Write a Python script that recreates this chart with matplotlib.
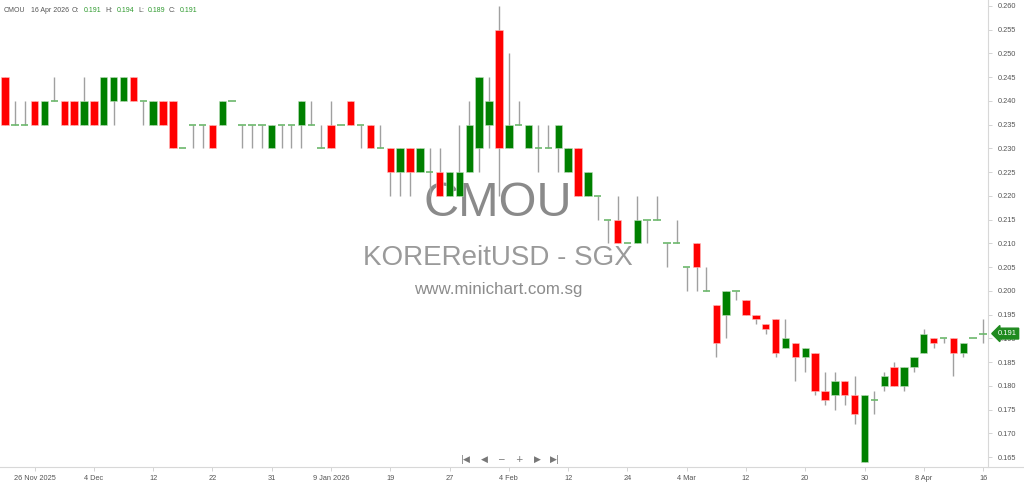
import numpy as np
import matplotlib.pyplot as plt

plt.rcParams['font.family'] = ['Liberation Sans', 'DejaVu Sans']

# daily OHLC, 21 Nov 2025 .. 16 Apr 2026 (trading days)
opens = [0.245, 0.235, 0.235, 0.240, 0.235, 0.240, 0.240, 0.240, 0.235, 0.240,
         0.235, 0.240, 0.240, 0.245, 0.240, 0.235, 0.240, 0.240, 0.230, 0.235,
         0.235, 0.235, 0.235, 0.240, 0.235, 0.235, 0.235, 0.230, 0.235, 0.235,
         0.235, 0.235, 0.230, 0.235, 0.235, 0.240, 0.235, 0.235, 0.230, 0.230,
         0.225, 0.230, 0.225, 0.225, 0.225, 0.220, 0.220, 0.225, 0.230, 0.235,
         0.255, 0.230, 0.235, 0.230, 0.230, 0.230, 0.230, 0.225, 0.230, 0.220,
         0.220, 0.215, 0.215, 0.210, 0.210, 0.215, 0.215, 0.210, 0.210, 0.205,
         0.210, 0.200, 0.197, 0.195, 0.200, 0.198, 0.195, 0.193, 0.194, 0.188,
         0.189, 0.186, 0.187, 0.179, 0.178, 0.181, 0.178, 0.164, 0.177, 0.180,
         0.184, 0.180, 0.184, 0.187, 0.190, 0.190, 0.190, 0.187, 0.190, 0.191]
highs = [0.245, 0.240, 0.240, 0.240, 0.240, 0.245, 0.240, 0.240, 0.245, 0.240,
         0.245, 0.245, 0.245, 0.245, 0.240, 0.240, 0.240, 0.240, 0.230, 0.235,
         0.235, 0.235, 0.240, 0.240, 0.235, 0.235, 0.235, 0.235, 0.235, 0.235,
         0.240, 0.240, 0.235, 0.240, 0.235, 0.240, 0.235, 0.235, 0.235, 0.230,
         0.230, 0.230, 0.230, 0.230, 0.230, 0.225, 0.235, 0.240, 0.245, 0.245,
         0.260, 0.250, 0.240, 0.235, 0.235, 0.235, 0.235, 0.230, 0.230, 0.225,
         0.220, 0.215, 0.220, 0.210, 0.220, 0.215, 0.220, 0.210, 0.215, 0.205,
         0.210, 0.205, 0.197, 0.200, 0.200, 0.198, 0.195, 0.193, 0.194, 0.194,
         0.189, 0.188, 0.187, 0.183, 0.183, 0.181, 0.182, 0.178, 0.179, 0.183,
         0.185, 0.184, 0.186, 0.192, 0.190, 0.190, 0.190, 0.189, 0.190, 0.194]
lows = [0.235, 0.235, 0.235, 0.235, 0.235, 0.240, 0.235, 0.235, 0.235, 0.235,
        0.235, 0.235, 0.240, 0.240, 0.235, 0.235, 0.235, 0.230, 0.230, 0.230,
        0.230, 0.230, 0.235, 0.240, 0.230, 0.230, 0.230, 0.230, 0.230, 0.230,
        0.230, 0.235, 0.230, 0.230, 0.235, 0.235, 0.230, 0.230, 0.230, 0.220,
        0.220, 0.220, 0.225, 0.220, 0.220, 0.220, 0.220, 0.225, 0.225, 0.230,
        0.220, 0.230, 0.235, 0.230, 0.225, 0.230, 0.225, 0.225, 0.220, 0.220,
        0.215, 0.210, 0.210, 0.210, 0.210, 0.210, 0.215, 0.205, 0.210, 0.200,
        0.200, 0.200, 0.186, 0.190, 0.198, 0.195, 0.193, 0.191, 0.186, 0.188,
        0.181, 0.183, 0.178, 0.176, 0.175, 0.176, 0.172, 0.164, 0.174, 0.179,
        0.180, 0.179, 0.183, 0.187, 0.188, 0.189, 0.182, 0.186, 0.190, 0.189]
closes = [0.235, 0.235, 0.235, 0.235, 0.240, 0.240, 0.235, 0.235, 0.240, 0.235,
          0.245, 0.245, 0.245, 0.240, 0.240, 0.240, 0.235, 0.230, 0.230, 0.235,
          0.235, 0.230, 0.240, 0.240, 0.235, 0.235, 0.235, 0.235, 0.235, 0.235,
          0.240, 0.235, 0.230, 0.230, 0.235, 0.235, 0.235, 0.230, 0.230, 0.225,
          0.230, 0.225, 0.230, 0.225, 0.220, 0.225, 0.225, 0.235, 0.245, 0.240,
          0.230, 0.235, 0.235, 0.235, 0.230, 0.230, 0.235, 0.230, 0.220, 0.225,
          0.220, 0.215, 0.210, 0.210, 0.215, 0.215, 0.215, 0.210, 0.210, 0.205,
          0.205, 0.200, 0.189, 0.200, 0.200, 0.195, 0.194, 0.192, 0.187, 0.190,
          0.186, 0.188, 0.179, 0.177, 0.181, 0.178, 0.174, 0.178, 0.177, 0.182,
          0.180, 0.184, 0.186, 0.191, 0.189, 0.190, 0.187, 0.189, 0.190, 0.191]

tick_pos = [3, 9, 15, 21, 27, 33, 39, 45, 51, 57, 63, 69, 75, 81, 87, 93, 99]
tick_labels = ['26 Nov 2025', '4 Dec', '12', '22', '31', '9 Jan 2026', '19', '27',
               '4 Feb', '12', '24', '4 Mar', '12', '20', '30', '8 Apr', '16']
price_ticks = np.arange(0.165, 0.2601, 0.005)

o = np.array(opens)
h = np.array(highs)
l = np.array(lows)
c = np.array(closes)
x = np.arange(len(o))

fig = plt.figure(figsize=(10.24, 4.84), dpi=100)
ax = fig.add_axes([0, 17 / 484, 988 / 1024, 467 / 484])

# watermark
ax.text(0.504, 0.565, 'CMOU', transform=ax.transAxes, ha='center', va='center',
        fontsize=35, color='#8a8a8a', zorder=0)
ax.text(0.504, 0.447, 'KOREReitUSD - SGX', transform=ax.transAxes, ha='center',
        va='center', fontsize=20, color='#9a9a9a', zorder=0)
ax.text(0.504, 0.38, 'www.minichart.com.sg', transform=ax.transAxes, ha='center',
        va='center', fontsize=12.2, color='#8c8c8c', zorder=0)

w = 0.75
up = c > o
down = c < o
flat = c == o

ax.vlines(x, l, h, color='#a0a0a0', lw=1, zorder=2)
ax.bar(x[up], c[up] - o[up], bottom=o[up], width=w, color='#008000',
       edgecolor='#bfe0bf', lw=0.4, zorder=3)
ax.bar(x[down], o[down] - c[down], bottom=c[down], width=w, color='#ff0000',
       edgecolor='#ffc0c0', lw=0.4, zorder=3)
ax.hlines(c[flat], x[flat] - w / 2, x[flat] + w / 2, color='#6cb86c', lw=1.2, zorder=3)

ax.set_xlim(-0.5, 99.5)
ax.set_ylim(0.1629, 0.26126)

ax.yaxis.tick_right()
ax.set_yticks(price_ticks)
ax.set_yticklabels([f'{v:.3f}' for v in price_ticks])
ax.set_xticks(tick_pos)
ax.set_xticklabels(tick_labels)
ax.tick_params(axis='both', labelsize=5.3, colors='#cccccc', labelcolor='#555555',
               length=3, width=0.6)
ax.tick_params(axis='y', pad=4)
ax.tick_params(axis='x', pad=3)
for side in ['top', 'left']:
    ax.spines[side].set_visible(False)
for side in ['right', 'bottom']:
    ax.spines[side].set_color('#d8d8d8')
    ax.spines[side].set_linewidth(0.8)

# line under the price scale
fig.add_artist(plt.Line2D([988 / 1024, 1], [17 / 484, 17 / 484], color='#d8d8d8', lw=0.8))

# header
def hx(px):
    return px / 1024

hy = 1 - 10 / 484
grey = '#555555'
green = '#2e9a2e'
for px, txt, col in [(4, 'CMOU', grey), (31, '16 Apr 2026', grey), (72, 'O:', grey),
                     (84, '0.191', green), (105, 'H:', grey), (117, '0.194', green),
                     (138, 'L:', grey), (148, '0.189', green), (169, 'C:', grey),
                     (180, '0.191', green)]:
    fig.text(hx(px), hy, txt, ha='left', va='center', fontsize=5, color=col)

# last price tag
ax.annotate(f'{c[-1]:.3f}', xy=(1.0, c[-1]), xycoords=('axes fraction', 'data'),
            xytext=(7, 0), textcoords='offset points', ha='left', va='center',
            fontsize=5.5, color='white',
            bbox=dict(boxstyle='larrow,pad=0.25', fc='#1f8a1f', ec='#1f8a1f'))

# navigation buttons
for px, txt in [(466, '|◀'), (484, '◀'), (501, '−'), (519, '+'), (537, '▶'), (555, '▶|')]:
    fig.text(hx(px), 1 - 459 / 484, txt, ha='center', va='center', fontsize=6.5,
             color='#777777', family='DejaVu Sans')

fig.savefig('out.png', dpi=100)
